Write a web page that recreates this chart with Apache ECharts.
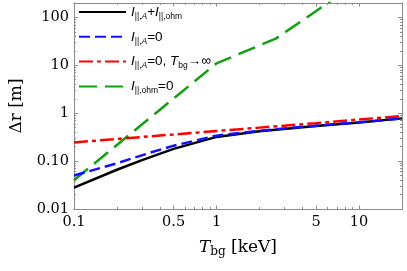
<!DOCTYPE html>
<html><head><meta charset="utf-8">
<script src="https://cdn.jsdelivr.net/npm/echarts@6/dist/echarts.min.js"></script>
<style>html,body{margin:0;padding:0;background:#fff}#c{width:407px;height:271px}</style>
</head><body><div id="c"></div>
<script>
// ---- data ----
const T_total = [0.1, 0.2, 0.3, 0.5, 1, 2, 5, 10, 20];
const dr_total = [0.028, 0.066, 0.105, 0.18, 0.32, 0.42, 0.54, 0.64, 0.78];
const T_A0 = [0.1, 0.2, 0.35, 0.5, 1, 2, 5, 10, 20];
const dr_A0 = [0.05, 0.09, 0.153, 0.21, 0.34, 0.43, 0.55, 0.645, 0.78];
const T_inf = [0.1, 0.2, 0.5, 1, 2, 5, 10, 20];
const dr_inf = [0.245, 0.29, 0.36, 0.425, 0.50, 0.62, 0.74, 0.87];
const T_ohm0 = [0.1, 1, 2.6, 7];
const dr_ohm0 = [0.04, 11, 36, 270];
const xMajorTicks = [0.1, 0.5, 1, 5, 10];
const xTickLabels = ['0.1', '0.5', '1', '5', '10'];
const xMinorTicks = [0.2, 0.3, 0.4, 0.6, 0.7, 0.8, 0.9, 2, 3, 4, 6, 7, 8, 9, 20];
const yMajorTicks = [0.01, 0.1, 1, 10, 100];
const yTickLabels = ['0.01', '0.10', '1', '10', '100'];
const yMinorTicks = [0.02, 0.03, 0.04, 0.05, 0.06, 0.07, 0.08, 0.09, 0.2, 0.3, 0.4, 0.5, 0.6, 0.7, 0.8, 0.9,
  2, 3, 4, 5, 6, 7, 8, 9, 20, 30, 40, 50, 60, 70, 80, 90, 200];
const seriesNames = ['total', 'A0', 'inf', 'ohm0'];
// ---- chart ----
const frame = '#8c8c8c';
const serif = 'DejaVu Serif';
function lbl(ticks, labels) {
  return function (v) {
    let best = 0, bd = Infinity;
    ticks.forEach((t, i) => { const d = Math.abs(Math.log10(t) - Math.log10(v)); if (d < bd) { bd = d; best = i; } });
    return labels[best];
  };
}
function xAx(pos, ticks, len, showLabel) {
  return {
    type: 'log', logBase: 10, min: 0.1, max: 20, position: pos,
    axisLine: { show: true, onZero: false, lineStyle: { color: frame, width: 1 } },
    axisTick: { show: true, inside: true, length: len, customValues: ticks, lineStyle: { color: frame } },
    axisLabel: showLabel ? { show: true, customValues: xMajorTicks, formatter: lbl(xMajorTicks, xTickLabels),
      color: '#000', fontFamily: serif, fontSize: 14.5, margin: 6 } : { show: false },
    splitLine: { show: false }, minorTick: { show: false }
  };
}
function yAx(pos, ticks, len, showLabel) {
  return {
    type: 'log', logBase: 10, min: 0.01, max: 200, position: pos,
    axisLine: { show: true, onZero: false, lineStyle: { color: frame, width: 1 } },
    axisTick: { show: true, inside: true, length: len, customValues: ticks, lineStyle: { color: frame } },
    axisLabel: showLabel ? { show: true, customValues: yMajorTicks, formatter: lbl(yMajorTicks, yTickLabels),
      color: '#000', fontFamily: serif, fontSize: 14.5, margin: 5 } : { show: false },
    splitLine: { show: false }, minorTick: { show: false }
  };
}
const xAxes = [xAx('bottom', xMajorTicks, 3.5, true), xAx('bottom', xMinorTicks, 2, false),
  xAx('top', xMajorTicks, 3.5, false), xAx('top', xMinorTicks, 2, false)];
xAxes[0].name = '{t|T}{s|bg}{n| [keV]}';
xAxes[0].nameLocation = 'middle';
xAxes[0].nameGap = 29;
xAxes[0].nameTextStyle = { fontFamily: serif, fontSize: 17, color: '#000',
  rich: { t: { fontFamily: serif, fontStyle: 'italic', fontSize: 17, lineHeight: 20, color: '#000' },
          n: { fontFamily: serif, fontSize: 17, lineHeight: 20, color: '#000' },
          s: { fontFamily: serif, fontSize: 12, lineHeight: 14, verticalAlign: 'bottom', color: '#000' } } };
const yAxes = [yAx('left', yMajorTicks, 4, true), yAx('left', yMinorTicks, 2, false),
  yAx('right', yMajorTicks, 4, false), yAx('right', yMinorTicks, 2, false)];
yAxes[0].name = 'Δr [m]';
yAxes[0].nameLocation = 'middle';
yAxes[0].nameGap = 49;
yAxes[0].nameRotate = 90;
yAxes[0].nameTextStyle = { fontFamily: serif, fontSize: 17, color: '#000' };
const legendText = {
  total: '{i|I}{s|||,}{si|A}{n|+}{i|I}{s|||,ohm}',
  A0: '{i|I}{s|||,}{si|A}{n|=0}',
  inf: '{i|I}{s|||,}{si|A}{n|=0, }{i|T}{s|bg}{n|→∞}',
  ohm0: '{i|I}{s|||,ohm}{n|=0}'
};
function mk(name, xs, ys, color, type, z) {
  return {
    name: name, type: 'line', xAxisIndex: 0, yAxisIndex: 0, symbol: 'none', showSymbol: false, smooth: false, z: z,
    lineStyle: { color: color, width: 2.5, type: type }, itemStyle: { color: color },
    data: xs.map((x, i) => [x, ys[i]])
  };
}
const chart = echarts.init(document.getElementById('c'), null, { renderer: 'canvas' });
chart.setOption({
  animation: false,
  grid: { left: 68, right: 5, top: 3, bottom: 62, containLabel: false },
  xAxis: xAxes,
  yAxis: yAxes,
  legend: {
    orient: 'vertical', left: 73, top: 0, itemWidth: 47, itemHeight: 14, itemGap: 8.8,
    data: seriesNames,
    itemStyle: { opacity: 0 },
    formatter: n => legendText[n],
    textStyle: {
      fontFamily: 'Liberation Sans', fontSize: 13, color: '#000',
      rich: {
        i: { fontFamily: 'Liberation Sans', fontStyle: 'italic', fontSize: 13.5, lineHeight: 18, color: '#000' },
        n: { fontFamily: 'Liberation Sans', fontSize: 13.5, lineHeight: 18, color: '#000' },
        s: { fontFamily: 'Liberation Sans', fontSize: 8.5, lineHeight: 11, verticalAlign: 'bottom', color: '#000' },
        si: { fontFamily: 'Liberation Sans', fontStyle: 'italic', fontSize: 8.5, lineHeight: 11, verticalAlign: 'bottom', color: '#000' }
      }
    }
  },
  series: [
    mk('total', T_total, dr_total, '#000000', 'solid', 4),
    mk('A0', T_A0, dr_A0, '#1010ff', [11, 5], 5),
    mk('inf', T_inf, dr_inf, '#ff0000', [14, 4, 4, 4], 3),
    mk('ohm0', T_ohm0, dr_ohm0, '#10a010', [18, 8], 2)
  ]
});
</script></body></html>
